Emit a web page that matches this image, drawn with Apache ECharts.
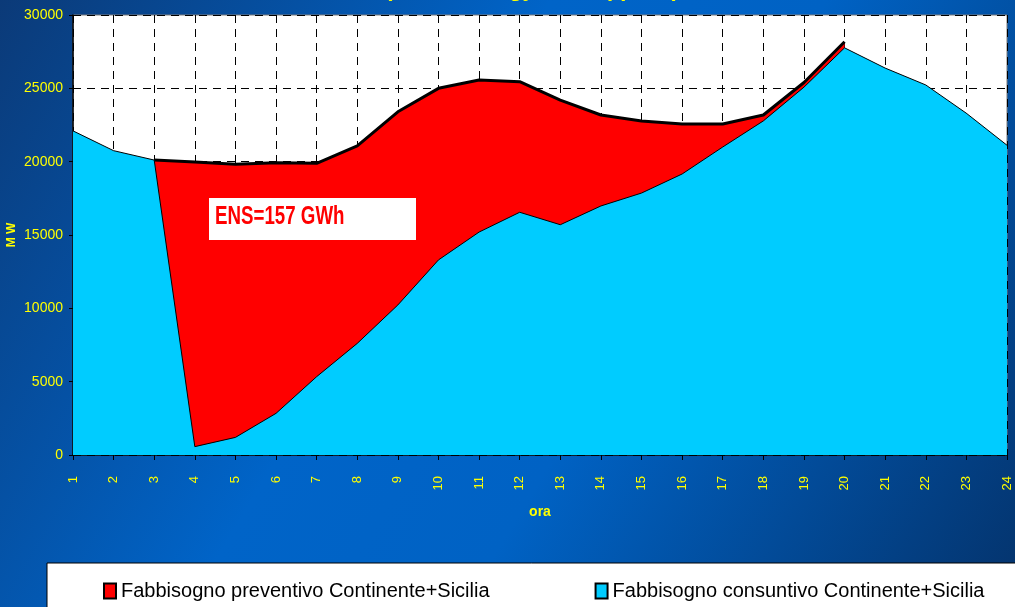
<!DOCTYPE html>
<html>
<head>
<meta charset="utf-8">
<script src="https://cdn.jsdelivr.net/npm/echarts@6/dist/echarts.min.js"></script>
<style>
  html, body { margin: 0; padding: 0; }
  #main { width: 1015px; height: 607px; }
</style>
</head>
<body>
<div id="main"></div>
<script>
// ore del giorno
let ore = ['1','2','3','4','5','6','7','8','9','10','11','12','13','14','15','16','17','18','19','20','21','22','23','24'];
// fabbisogno preventivo (solo dove si vede)
let preventivo = [null, null, 20110, 19980, 19820, 19930, 19890, 21070, 23400, 25000, 25570, 25450,
                  24200, 23180, 22770, 22570, 22570, 23180, 25400, 28180, null, null, null, null];
// fabbisogno consuntivo
let consuntivo = [22100, 20750, 20110, 570, 1200, 2840, 5340, 7610, 10230, 13300, 15200, 16550,
                  15700, 16980, 17860, 19160, 21000, 22780, 25080, 27760, 26380, 25230, 23300, 21120];
let nomi = ['Fabbisogno preventivo Continente+Sicilia', 'Fabbisogno consuntivo Continente+Sicilia'];

let myChart = echarts.init(document.getElementById('main'));
let giallo = '#ffff00';

myChart.setOption({
    animation: false,
    backgroundColor: {
        type: 'linear', x: 0, y: 0, x2: 1, y2: 1,
        colorStops: [
            {offset: 0, color: '#0b3a78'},
            {offset: 0.4, color: '#0064c8'},
            {offset: 0.6, color: '#0062c4'},
            {offset: 1, color: '#04336c'}
        ]
    },
    title: {
        text: '(ENS = energy not supplied)',
        left: 380,
        top: -26,
        textStyle: {color: giallo, fontSize: 22, fontWeight: 'bold', fontFamily: 'Liberation Sans'}
    },
    graphic: [
        // riquadro bianco della legenda
        {
            type: 'rect', x: 47, y: 563, z: 0,
            shape: {x: 0, y: 0, width: 1000, height: 60},
            style: {fill: '#ffffff', stroke: '#000000', lineWidth: 1}
        },
        // etichetta ENS
        {
            type: 'rect', x: 209, y: 198, z: 100,
            shape: {x: 0, y: 0, width: 207, height: 42},
            style: {fill: '#ffffff'}
        },
        {
            type: 'text', x: 215, y: 204, z: 101, scaleX: 0.72,
            style: {
                text: 'ENS=157 GWh', fill: '#ff0000',
                font: 'bold 26px "Liberation Sans", sans-serif'
            }
        }
    ],
    legend: {
        left: 98,
        top: 576,
        itemGap: 105,
        itemWidth: 12,
        itemHeight: 15,
        icon: 'rect',
        textStyle: {color: '#000', fontSize: 20, fontFamily: 'Liberation Sans'},
        data: nomi
    },
    grid: {
        left: 73, right: 8, top: 15, bottom: 152,
        outerBoundsMode: 'none',
        containLabel: false,
        show: true, backgroundColor: '#ffffff', borderColor: '#7a7a7a', borderWidth: 1
    },
    xAxis: {
        type: 'category',
        data: ore,
        boundaryGap: false,
        name: 'ora',
        nameLocation: 'middle',
        nameGap: 50,
        nameMoveOverlap: false,
        nameTextStyle: {color: giallo, fontSize: 14, fontWeight: 'bold', fontFamily: 'Liberation Sans'},
        axisLine: {lineStyle: {color: '#000', width: 1.5}},
        axisTick: {show: true, length: 5, lineStyle: {color: '#000'}},
        axisLabel: {color: giallo, rotate: 90, margin: 21, fontSize: 13, fontFamily: 'Liberation Sans'},
        splitLine: {show: true, lineStyle: {color: '#000', type: [8, 6], width: 1}}
    },
    yAxis: {
        type: 'value',
        min: 0, max: 30000, interval: 5000,
        name: 'M W',
        nameLocation: 'middle',
        nameGap: 55,
        nameMoveOverlap: false,
        nameTextStyle: {color: giallo, fontSize: 12, fontWeight: 'bold', fontFamily: 'Liberation Sans'},
        axisLine: {show: true, lineStyle: {color: '#000', width: 1.5}},
        axisTick: {show: true, length: 4, lineStyle: {color: '#000'}},
        axisLabel: {
            color: giallo, margin: 10, fontSize: 14, fontFamily: 'Liberation Sans',
            formatter: function (v) { return String(v); }
        },
        splitLine: {show: true, lineStyle: {color: '#000', type: [8, 6], width: 1}}
    },
    series: [
        {
            name: nomi[0],
            type: 'line',
            data: preventivo,
            symbol: 'none',
            color: '#ff0000',
            itemStyle: {color: '#ff0000', borderColor: '#000', borderWidth: 1.5},
            lineStyle: {color: '#000', width: 3},
            areaStyle: {color: '#ff0000', opacity: 1},
            z: 2
        },
        {
            name: nomi[1],
            type: 'line',
            data: consuntivo,
            symbol: 'none',
            color: '#00ccff',
            itemStyle: {color: '#00ccff', borderColor: '#000', borderWidth: 1.5},
            lineStyle: {color: '#000', width: 1},
            areaStyle: {color: '#00ccff', opacity: 1},
            z: 3
        }
    ]
});
</script>
</body>
</html>
